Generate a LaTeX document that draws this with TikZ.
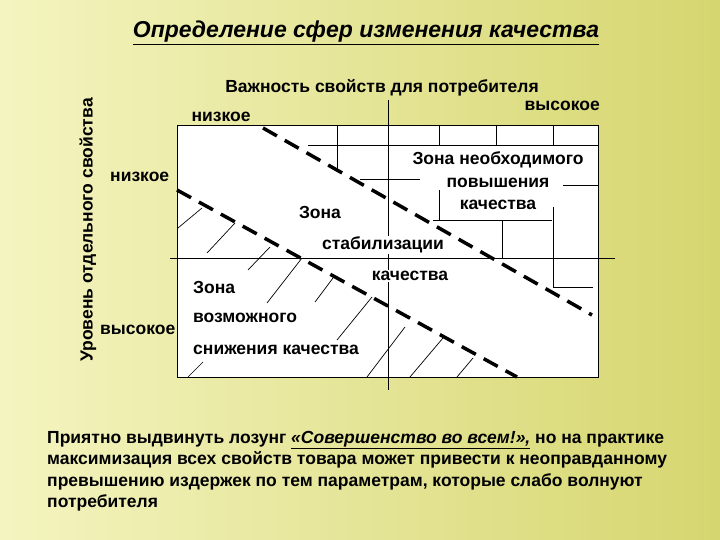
\documentclass[tikz,border=0pt]{standalone}
\usepackage{fontspec}
\setmainfont{Liberation Sans}
\definecolor{bgl}{RGB}{244,244,192}
\definecolor{bgr}{RGB}{214,214,112}
\begin{document}
\begin{tikzpicture}[x=1pt,y=-1pt,
  lbl/.style={font=\bfseries\fontsize{17.5}{20}\selectfont,inner sep=0pt},
  thin/.style={line width=0.7pt},
  zdash/.style={line width=3.5pt,dash pattern=on 16pt off 9pt}]
\shade[left color=bgl, right color=bgr] (0,0) rectangle (720,540);
\useasboundingbox (0,0) rectangle (720,540);
\node[inner sep=0pt,font=\bfseries\itshape\fontsize{23}{26}\selectfont] (title) at (366,33) {\underline{Определение сфер изменения качества}};
\node[lbl] (imp) at (382,88) {Важность свойств для потребителя};
\node[lbl,anchor=east] (hi1) at (600,106) {высокое};
\node[lbl] (lo1) at (221,117) {низкое};
\node[lbl,rotate=90] (lev) at (88,230) {Уровень отдельного свойства};
\node[lbl,anchor=west] (lo2) at (110,177) {низкое};
\node[lbl,anchor=west] (hi2) at (100,330) {высокое};
\node[fill=white,draw,thin,inner sep=0pt,anchor=north west,minimum width=421pt,minimum height=252pt] (box) at (177,125) {};
\coordinate (h1) at (170,258); \coordinate (h2) at (615,258);
\coordinate (v1) at (388,100); \coordinate (v2) at (388,390);
\draw[thin] (h1)--(h2); \draw[thin] (v1)--(v2);
\draw[thin] (337,125)--(337,172) (439,125)--(439,145) (496,125)--(496,145) (553,125)--(553,145)
 (308,145)--(598,145) (360,179)--(420,179) (563,185)--(598,185)
 (439,190)--(439,220) (433,220)--(552,220) (502,220)--(502,258)
 (553,207)--(553,287) (553,287)--(593,287);
\draw[thin] (202,208)--(178,228) (235,223)--(207,253) (270,247)--(248,270) (302,258)--(267,303)
 (333,278)--(315,302) (372,297)--(337,340) (405,327)--(367,377) (443,338)--(410,377)
 (473,358)--(457,377) (203,362)--(188,377);
\coordinate (a1) at (263,128); \coordinate (a2) at (592,315);
\coordinate (b1) at (177,190); \coordinate (b2) at (517,377);
\draw[zdash] (a1)--(a2); \draw[zdash] (b1)--(b2);
\node[lbl,fill=white,inner sep=1pt] (t1) at (498,160) {Зона необходимого};
\node[lbl,fill=white,inner sep=1pt] (t2) at (498,183) {повышения};
\node[lbl,fill=white,inner sep=1pt] (t3) at (498,205) {качества};
\node[lbl,fill=white,inner sep=1pt] (s1) at (320,212) {Зона};
\node[lbl,fill=white,inner sep=1pt] (s2) at (383,245) {стабилизации};
\node[lbl,fill=white,inner sep=1pt] (s3) at (410,276) {качества};
\node[lbl,anchor=west,fill=white,inner sep=1pt] (d1) at (192,287) {Зона};
\node[lbl,anchor=west,fill=white,inner sep=1pt] (d2) at (192,318) {возможного};
\node[lbl,anchor=west,fill=white,inner sep=1pt] (d3) at (192,350) {снижения качества};
\node[anchor=north west,inner sep=0pt,align=left,font=\bfseries\fontsize{17.5}{21.5}\selectfont] (par) at (47,431)
 {Приятно выдвинуть лозунг \underline{\itshape «Совершенство во всем!»,} но на практике\\
 максимизация всех свойств товара может привести к неоправданному\\
 превышению издержек по тем параметрам, которые слабо волнуют\\
 потребителя};
\end{tikzpicture}
\end{document}
